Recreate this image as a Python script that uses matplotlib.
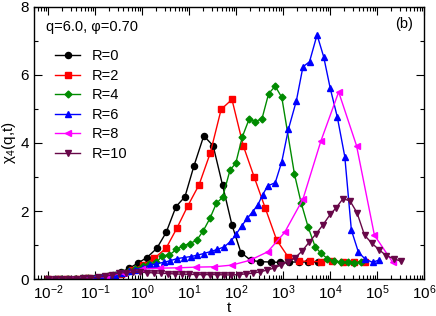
import numpy as np
import matplotlib
matplotlib.use("Agg")
import matplotlib.pyplot as plt

plt.rcParams['font.family'] = ['Liberation Sans', 'DejaVu Sans']
plt.rcParams['mathtext.default'] = 'regular'

# log10(t) positions and chi_4 values
logt_r0 = [-2.0, -1.8, -1.6, -1.4, -1.2, -1.0, -0.8, -0.62, -0.45, -0.27, -0.09, 0.10, 0.31, 0.51,
           0.72, 0.91, 1.10, 1.31, 1.51, 1.71, 1.91, 2.10, 2.31, 2.51, 2.73, 2.93, 3.13, 3.33, 3.53, 3.73]
chi_r0 = [0.0, 0.0, 0.01, 0.01, 0.02, 0.04, 0.07, 0.12, 0.2, 0.32, 0.47, 0.63, 0.90, 1.37,
          2.13, 2.42, 3.32, 4.21, 3.92, 2.76, 1.59, 0.78, 0.55, 0.51, 0.50, 0.49, 0.50, 0.50, 0.50, 0.50]

logt_r2 = [-2.0, -1.8, -1.6, -1.39, -1.15, -0.92, -0.68, -0.45, -0.21, 0.02, 0.26, 0.51, 0.74, 0.97,
           1.21, 1.45, 1.68, 1.91, 2.15, 2.38, 2.62, 2.86, 3.10, 3.33, 3.56, 3.80, 4.03, 4.27, 4.50, 4.74]
chi_r2 = [0.0, 0.0, 0.01, 0.01, 0.02, 0.04, 0.08, 0.15, 0.27, 0.42, 0.61, 0.91, 1.50, 2.15,
          2.77, 3.71, 4.99, 5.28, 3.92, 3.01, 2.08, 1.15, 0.66, 0.53, 0.52, 0.51, 0.52, 0.51, 0.51, 0.51]

logt_r4 = [-2.0, -1.86, -1.72, -1.57, -1.43, -1.29, -1.15, -1.0, -0.86, -0.72,
           -0.58, -0.43, -0.29, -0.15, 0.01, 0.15, 0.30, 0.43, 0.58, 0.73,
           0.87, 1.01, 1.16, 1.30, 1.44, 1.58, 1.71, 1.87, 1.99, 2.13,
           2.28, 2.41, 2.55, 2.69, 2.83, 2.97, 3.24, 3.38, 3.53, 3.68,
           3.80, 3.94, 4.08, 4.22, 4.37, 4.51, 4.65]
chi_r4 = [0.0, 0.0, 0.0, 0.01, 0.01, 0.02, 0.03, 0.04, 0.06, 0.09,
          0.13, 0.18, 0.24, 0.3, 0.37, 0.45, 0.49, 0.68, 0.71, 0.87,
          0.98, 1.04, 1.14, 1.42, 1.78, 2.23, 2.40, 3.21, 3.40, 4.18,
          4.72, 4.63, 4.72, 5.45, 5.67, 5.34, 3.08, 2.25, 1.53, 0.95,
          0.76, 0.60, 0.53, 0.50, 0.49, 0.48, 0.50]

logt_r6 = [-2.0, -1.86, -1.72, -1.57, -1.43, -1.29, -1.15, -1.0, -0.86, -0.72,
           -0.58, -0.43, -0.29, -0.15, 0.01, 0.17, 0.30, 0.46, 0.60, 0.74,
           0.88, 1.03, 1.17, 1.31, 1.46, 1.60, 1.75, 1.89, 2.0, 2.12,
           2.24, 2.35, 2.46, 2.56, 2.67, 2.83, 2.97, 3.11, 3.28, 3.42,
           3.56, 3.72, 3.86, 4.00, 4.15, 4.31, 4.45, 4.60, 4.74, 4.90, 5.04]
chi_r6 = [0.0, 0.0, 0.0, 0.01, 0.01, 0.02, 0.03, 0.04, 0.06, 0.09,
          0.13, 0.18, 0.23, 0.28, 0.33, 0.41, 0.45, 0.49, 0.54, 0.6,
          0.63, 0.66, 0.70, 0.75, 0.81, 0.87, 0.95, 1.12, 1.32, 1.57,
          1.79, 1.98, 2.18, 2.47, 2.74, 2.83, 3.45, 4.40, 5.24, 6.24,
          6.39, 7.18, 6.54, 5.61, 4.77, 3.60, 1.44, 0.79, 0.59, 0.49, 0.56]

logt_r8 = [-1.9, -1.52, -1.14, -0.76, -0.38, 0.0, 0.38, 0.77, 1.15, 1.53,
           1.91, 2.29, 2.67, 3.03, 3.42, 3.80, 4.18, 4.56, 4.94, 5.33]
chi_r8 = [0.0, 0.01, 0.03, 0.08, 0.18, 0.3, 0.32, 0.33, 0.35, 0.36,
          0.41, 0.55, 0.80, 1.37, 2.35, 4.05, 5.5, 3.92, 1.29, 0.49]

logt_r10 = [-2.0, -1.85, -1.7, -1.55, -1.4, -1.25, -1.1, -0.95, -0.8, -0.65,
            -0.5, -0.35, -0.2, -0.05, 0.1, 0.25, 0.4, 0.55, 0.7, 0.85,
            1.0, 1.15, 1.3, 1.45, 1.6, 1.75, 1.9, 2.05, 2.2, 2.35,
            2.5, 2.65, 2.8, 2.95, 3.1, 3.25, 3.4, 3.55, 3.7, 3.85,
            4.0, 4.13, 4.27, 4.42, 4.57, 4.73, 4.88, 5.04, 5.19, 5.35, 5.51]
chi_r10 = [0.0, 0.0, 0.0, 0.01, 0.01, 0.02, 0.03, 0.05, 0.08, 0.12,
           0.17, 0.19, 0.2, 0.2, 0.19, 0.18, 0.17, 0.16, 0.15, 0.14,
           0.14, 0.13, 0.13, 0.13, 0.13, 0.12, 0.12, 0.13, 0.15, 0.17,
           0.21, 0.26, 0.32, 0.41, 0.5, 0.62, 0.82, 1.08, 1.33, 1.6,
           1.9, 2.1, 2.36, 2.3, 1.95, 1.29, 1.06, 0.86, 0.69, 0.6, 0.52]

series = [
    ("R=0", logt_r0, chi_r0, "black", "o", 4.4),
    ("R=2", logt_r2, chi_r2, "#ff0000", "s", 4.0),
    ("R=4", logt_r4, chi_r4, "#008b00", "D", 3.5),
    ("R=6", logt_r6, chi_r6, "#0000ff", "^", 4.4),
    ("R=8", logt_r8, chi_r8, "#ff00ff", "<", 4.4),
    ("R=10", logt_r10, chi_r10, "#670748", "v", 4.4),
]

fig = plt.figure(figsize=(4.36, 3.16), dpi=100)
ax = fig.add_axes([0.078, 0.117, 0.895, 0.861])

for lab, lt, chi, col, mk, ms in series:
    ax.plot(np.power(10.0, lt), chi, color=col, marker=mk, ms=ms, lw=1.0,
            mec=col, mfc=col, label=lab)

ax.set_xscale("log")
ax.set_xlim(5e-3, 1e6)
ax.set_ylim(0, 8)
ax.set_yticks([0, 2, 4, 6, 8])
ax.set_yticks([1, 3, 5, 7], minor=True)
ax.set_xticks([1e-2, 1e-1, 1e0, 1e1, 1e2, 1e3, 1e4, 1e5, 1e6])
ax.tick_params(which="both", direction="in", top=True, right=True, labelsize=11)
ax.tick_params(which="major", length=6, width=0.8)
ax.tick_params(which="minor", length=3, width=0.8)
for s in ax.spines.values():
    s.set_linewidth(1.0)

ax.set_xlabel("t", fontsize=11, labelpad=-1)
ax.set_ylabel("χ$_4$(q,t)", fontsize=11, labelpad=2)

ax.text(0.031, 0.926, "q=6.0, φ=0.70", transform=ax.transAxes, fontsize=10.5,
        ha="left", va="center")
ax.text(0.972, 0.9375, "(b)", transform=ax.transAxes, fontsize=10.5,
        ha="right", va="center")

ax.legend(loc="upper left", bbox_to_anchor=(0.055, 0.845), frameon=False, fontsize=10.5,
          borderaxespad=0, borderpad=0, handlelength=1.7, handletextpad=0.8,
          labelspacing=0.38)

fig.savefig("out.png", dpi=100)
